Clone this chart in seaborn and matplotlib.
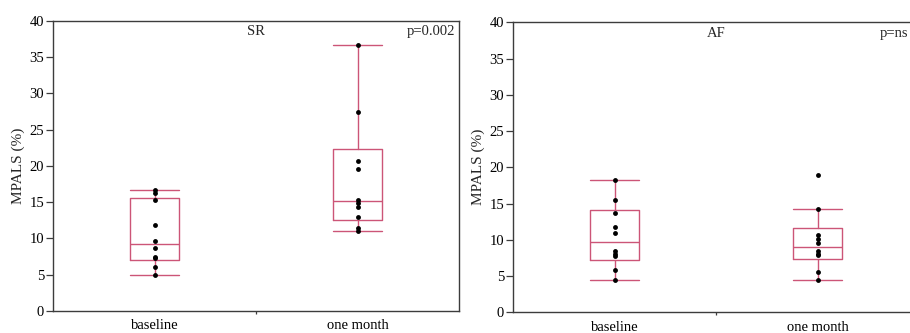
import numpy as np
import pandas as pd
import matplotlib
matplotlib.use("Agg")
import matplotlib.pyplot as plt
import matplotlib.transforms as mtransforms
import seaborn as sns

# ---- data ----
categories = ["baseline", "one month"]
sr_baseline = [16.7, 16.3, 15.3, 11.8, 9.7, 8.7, 7.5, 7.3, 6.1, 4.9]
sr_one_month = [36.6, 27.4, 20.7, 19.5, 15.3, 14.9, 14.3, 12.9, 11.4, 11.0]
af_baseline = [18.3, 15.5, 13.65, 11.8, 11.0, 8.4, 8.1, 7.7, 5.9, 4.45]
af_one_month = [18.9, 14.2, 10.7, 10.1, 9.6, 8.4, 8.1, 7.9, 5.6, 4.4]
panel_titles = ["SR", "AF"]
p_values = ["p=0.002", "p=ns"]
y_ticks = [0, 5, 10, 15, 20, 25, 30, 35, 40]
y_label = "MPALS (%)"

BOX_COLOR = "#CC5577"
SPINE_COLOR = "#3c3c3c"

sns.set_style("ticks")
plt.rcParams['font.family'] = ['Liberation Serif', 'DejaVu Serif']


def box_stats(vals, label):
    v = np.sort(np.asarray(vals, dtype=float))
    q1, med, q3 = np.percentile(v, [25, 50, 75], method="weibull")
    iqr = q3 - q1
    lo = v[v >= q1 - 1.5 * iqr].min()
    hi = v[v <= q3 + 1.5 * iqr].max()
    return dict(med=med, q1=q1, q3=q3, whislo=lo, whishi=hi, fliers=[], label=label)


W, H = 910, 333
fig = plt.figure(figsize=(W / 100, H / 100), dpi=100)
axes_px = [(53, 20.7, 406, 290.3), (513, 22.3, 406, 290.0)]
p_right_px = [455, 908]

groups = [(sr_baseline, sr_one_month), (af_baseline, af_one_month)]

for i, (gb, gm) in enumerate(groups):
    x0, top, w, h = axes_px[i]
    ax = fig.add_axes([x0 / W, (H - top - h) / H, w / W, h / H])
    df = pd.DataFrame({
        "period": [categories[0]] * len(gb) + [categories[1]] * len(gm),
        "value": list(gb) + list(gm),
    })
    sns.stripplot(data=df, x="period", y="value", order=categories,
                  color="black", size=3.5, jitter=False, ax=ax, zorder=4,
                  linewidth=0)
    stats = [box_stats(gb, categories[0]), box_stats(gm, categories[1])]
    lp = dict(color=BOX_COLOR, linewidth=1.0)
    ax.bxp(stats, positions=[0, 1], widths=0.24, capwidths=0.24,
           showfliers=False, boxprops=lp, whiskerprops=lp, capprops=lp,
           medianprops=lp, manage_ticks=False, zorder=2)
    ax.set_xlim(-0.5, 1.5)
    ax.set_ylim(0, 40)
    ax.set_xticks([0, 1])
    ax.set_xticklabels(categories)
    ax.set_xticks([0.5], minor=True)
    ax.set_yticks(y_ticks)
    ax.set_xlabel("")
    ax.set_ylabel(y_label, fontsize=11, labelpad=3)
    ax.tick_params(axis="y", length=5, width=0.9, color=SPINE_COLOR,
                   labelsize=10.5, pad=1.5, labelcolor="black")
    ax.tick_params(axis="x", which="major", length=0, labelsize=10.5, pad=6,
                   labelcolor="black")
    ax.tick_params(axis="x", which="minor", length=2, width=0.9, color=SPINE_COLOR)
    for s in ax.spines.values():
        s.set_visible(True)
        s.set_color(SPINE_COLOR)
        s.set_linewidth(1.0)
    ax.text(0.5, 38.5, panel_titles[i], ha="center", va="center", fontsize=10.5)
    trans = mtransforms.blended_transform_factory(fig.transFigure, ax.transData)
    ax.text(p_right_px[i] / W, 38.5, p_values[i], ha="right", va="center",
            fontsize=10.5, transform=trans)

fig.savefig("out.png", dpi=100)
